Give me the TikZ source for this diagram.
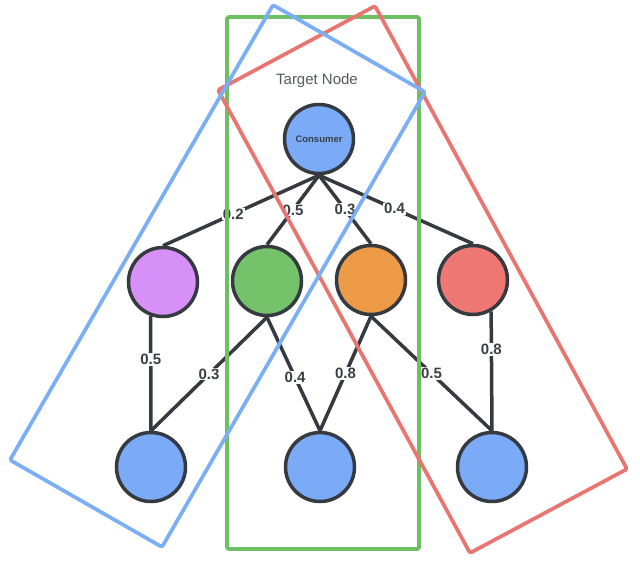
\documentclass[tikz,border=0pt]{standalone}
\usepackage{fontspec}
\setmainfont{Liberation Sans}
\definecolor{edgegray}{HTML}{343A40}
\definecolor{labelgray}{HTML}{3A3F45}
\definecolor{titlegray}{HTML}{555A60}
\definecolor{consblue}{HTML}{7BAAF7}
\definecolor{lilac}{HTML}{D790F8}
\definecolor{leaf}{HTML}{74C26A}
\definecolor{amber}{HTML}{EE9B47}
\definecolor{coral}{HTML}{EE7773}
\definecolor{boxgreen}{HTML}{6EBF64}
\definecolor{boxblue}{HTML}{7AAEF5}
\definecolor{boxred}{HTML}{EA7470}
\begin{document}
\begin{tikzpicture}[x=1pt, y=-1pt,
    vert/.style={circle, draw=edgegray, line width=3.5pt, minimum size=69pt, inner sep=0pt},
    link/.style={draw=edgegray, line width=3.5pt},
    wt/.style={fill=white, inner sep=1pt, text=labelgray,
               font=\bfseries\fontsize{15}{15}\selectfont},
    group/.style={line width=3.7pt, line join=round, rounded corners=1.5pt}]
    \useasboundingbox (0,0) rectangle (640,567);
    % target node and its neighbours
    \node[vert, fill=consblue, text=labelgray, font=\bfseries\fontsize{9.5}{10}\selectfont]
      (consumer) at (319,139) {Consumer};
    \node[font=\fontsize{15}{15}\selectfont, text=titlegray] (title) at (317,81) {Target Node};
    \node[vert, fill=lilac] (prod1) at (163,282) {};
    \node[vert, fill=leaf]  (prod2) at (267,281) {};
    \node[vert, fill=amber] (prod3) at (371,280) {};
    \node[vert, fill=coral] (prod4) at (473,280) {};
    \node[vert, fill=consblue] (item1) at (151,467) {};
    \node[vert, fill=consblue] (item2) at (320,467) {};
    \node[vert, fill=consblue] (item3) at (492,467) {};
    % weighted edges
    \draw[link] (consumer.south) -- node[wt, pos=0.55] {0.2} (prod1.north);
    \draw[link] (consumer.south) -- node[wt] {0.5} (prod2.north);
    \draw[link] (consumer.south) -- node[wt] {0.3} (prod3.north);
    \draw[link] (consumer.south) -- node[wt, pos=0.49] {0.4} (prod4.north);
    \draw[link] (prod1.-110) -- node[wt, pos=0.38] {0.5} (item1.north);
    \draw[link] (prod2.south) -- node[wt] {0.3} (item1.north);
    \draw[link] (prod2.south) -- node[wt, pos=0.53] {0.4} (item2.north);
    \draw[link] (prod3.south) -- node[wt] {0.8} (item2.north);
    \draw[link] (prod3.south) -- node[wt] {0.5} (item3.north);
    \draw[link] (prod4.-60) -- node[wt, pos=0.32] {0.8} (item3.north);
    % neighbourhood windows
    \draw[group, draw=boxgreen] (227,17) rectangle (419,549);
    \draw[group, draw=boxred] (375,6) -- (627,469) -- (470,553) -- (218,90) -- cycle;
    \draw[group, draw=boxblue] (273,5) -- (425,92) -- (162,547) -- (10,460) -- cycle;
\end{tikzpicture}
\end{document}
